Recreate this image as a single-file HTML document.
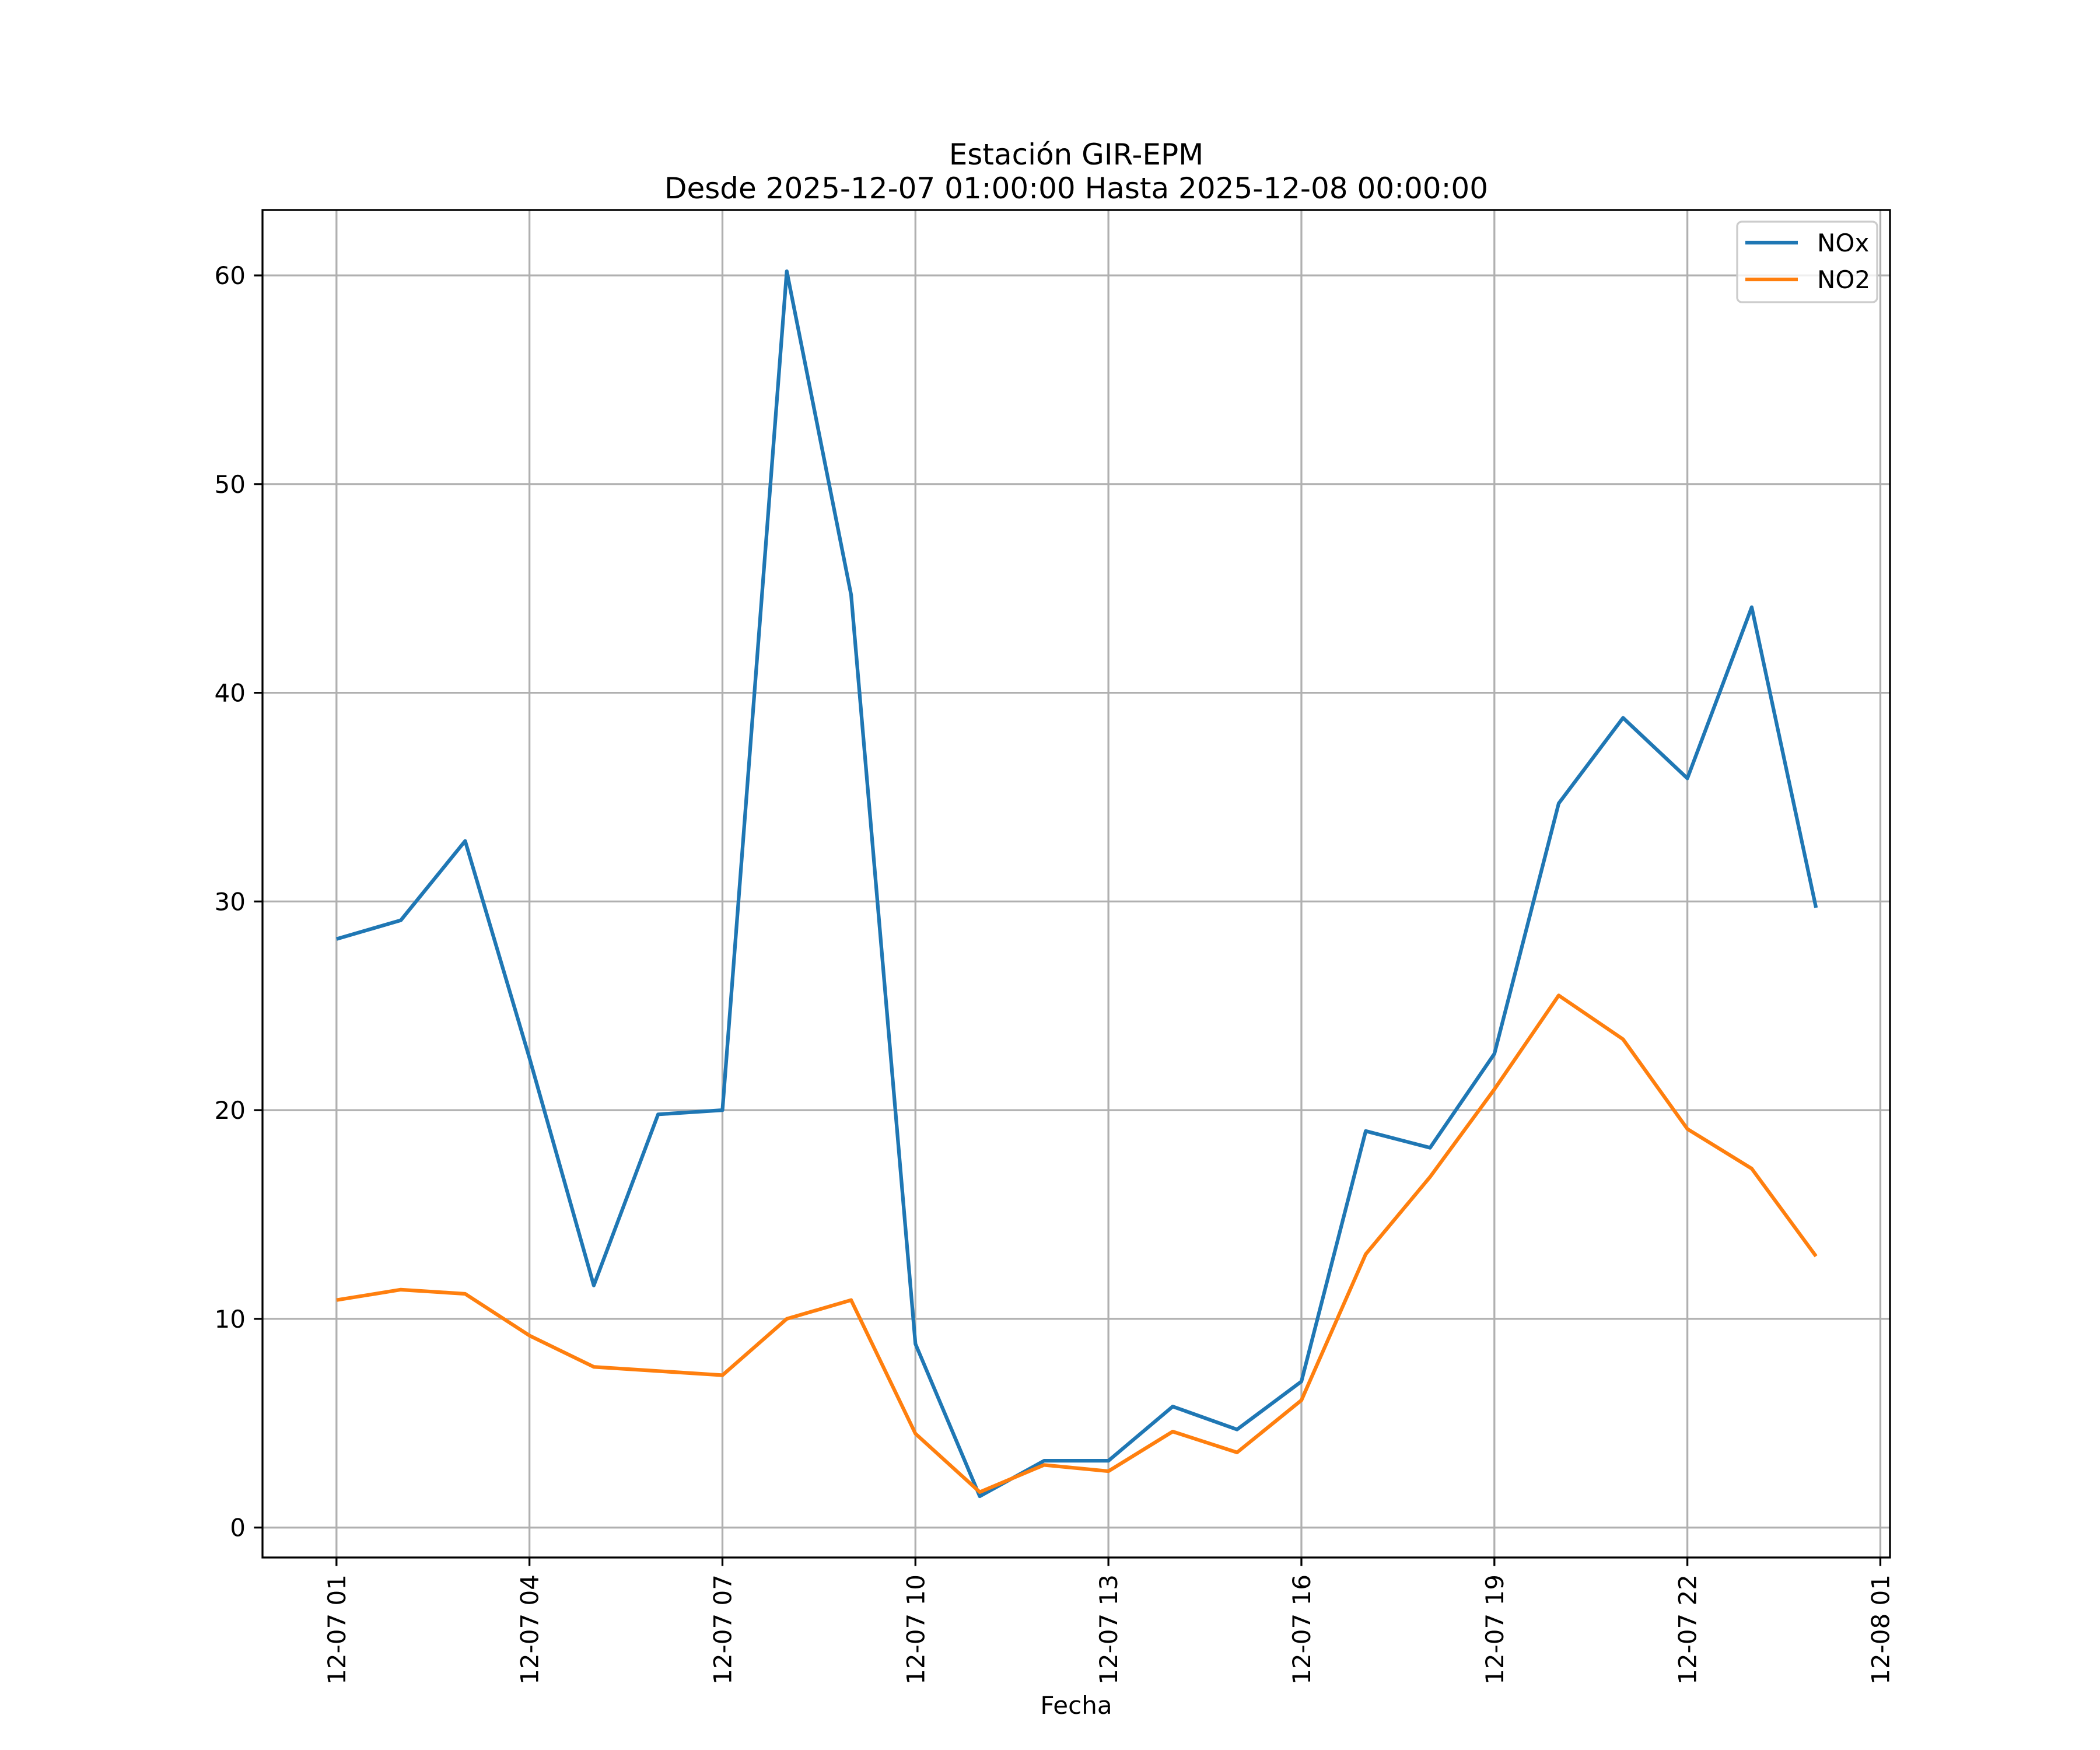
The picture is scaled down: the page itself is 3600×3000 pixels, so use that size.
<!DOCTYPE html>
<html><head><meta charset="utf-8"><style>
html,body{margin:0;padding:0;background:#fff}
svg{display:block;font-family:"DejaVu Sans","Liberation Sans",sans-serif}
</style></head><body>
<svg id="chart" width="3600" height="3000" viewBox="0 0 3600 3000">
<rect width="3600" height="3000" fill="#fff"/>
<text x="1845" y="282" font-size="50" text-anchor="middle">Estación GIR-EPM</text>
<text x="1845" y="340" font-size="50" text-anchor="middle">Desde 2025-12-07 01:00:00 Hasta 2025-12-08 00:00:00</text>
<g id="grid"></g>
<g id="series"></g>
<rect x="450" y="360" width="2790" height="2310" fill="none" stroke="#000" stroke-width="3.3"/>
<g id="ticks"></g>
<text x="1845" y="2938" font-size="42" text-anchor="middle">Fecha</text>
<g>
<rect x="2978" y="380" width="240" height="138" rx="8" fill="#fff" fill-opacity="0.8" stroke="#ccc" stroke-width="3.3"/>
<line x1="2992" y1="416" x2="3082" y2="416" stroke="#1f77b4" stroke-width="6.25"/>
<text x="3115" y="431" font-size="42">NOx</text>
<line x1="2992" y1="479" x2="3082" y2="479" stroke="#ff7f0e" stroke-width="6.25"/>
<text x="3115" y="494" font-size="42">NO2</text>
</g>
</svg>
<script>
const hours = [1,2,3,4,5,6,7,8,9,10,11,12,13,14,15,16,17,18,19,20,21,22,23,24];
const noxValues = [28.2,29.1,32.9,22.5,11.6,19.8,20.0,60.2,44.7,8.8,1.5,3.2,3.2,5.8,4.7,7.0,19.0,18.2,22.7,34.7,38.8,35.9,44.1,29.7];
const no2Values = [10.9,11.4,11.2,9.2,7.7,7.5,7.3,10.0,10.9,4.5,1.7,3.0,2.7,4.6,3.6,6.1,13.1,16.8,21.0,25.5,23.4,19.1,17.2,13.0];
const xTickHours = [1,4,7,10,13,16,19,22,25];
const xTickLabels = ["12-07 01","12-07 04","12-07 07","12-07 10","12-07 13","12-07 16","12-07 19","12-07 22","12-08 01"];
const yTicks = [0,10,20,30,40,50,60];

const NS="http://www.w3.org/2000/svg";
const L=450,R=3240,T=360,B=2670;
const allV=noxValues.concat(no2Values);
const vmin=Math.min(...allV),vmax=Math.max(...allV);
const ymin=vmin-0.05*(vmax-vmin),ymax=vmax+0.05*(vmax-vmin);
const hmin=Math.min(...hours),hmax=Math.max(...hours);
const xmin=hmin-0.05*(hmax-hmin),xmax=hmax+0.05*(hmax-hmin);
const xs=h=>L+(h-xmin)/(xmax-xmin)*(R-L);
const ys=v=>B-(v-ymin)/(ymax-ymin)*(B-T);
function mk(t,a,p){const e=document.createElementNS(NS,t);for(const k in a)e.setAttribute(k,a[k]);p.appendChild(e);return e;}
const grid=document.getElementById('grid'),ticks=document.getElementById('ticks'),series=document.getElementById('series');
xTickHours.forEach((h,i)=>{
  const x=xs(h);
  const g=mk('line',{x1:x,x2:x,y1:T,y2:B,stroke:'#b0b0b0','stroke-width':3.3},grid);
  
  
  const t=mk('line',{x1:x,x2:x,y1:B,y2:B+14.6,stroke:'#000','stroke-width':3.3},ticks);
  
  
  const tx=mk('text',{x:0,y:0,'font-size':42,'text-anchor':'end',transform:`translate(${x+15},${B+29}) rotate(-90)`},ticks);
  tx.textContent=xTickLabels[i];
  
  
});
yTicks.forEach(v=>{
  const y=ys(v);
  const g=mk('line',{x1:L,x2:R,y1:y,y2:y,stroke:'#b0b0b0','stroke-width':3.3},grid);
  
  
  const t=mk('line',{x1:L-14.6,x2:L,y1:y,y2:y,stroke:'#000','stroke-width':3.3},ticks);
  
  
  const tx=mk('text',{x:L-29,y:y+15,'font-size':42,'text-anchor':'end'},ticks);
  tx.textContent=String(v);
  
  
});
function line(vals,color,name){
  const p=mk('polyline',{points:vals.map((v,i)=>xs(hours[i])+','+ys(v)).join(' '),fill:'none',stroke:color,'stroke-width':6.25,'stroke-linejoin':'round'},series);
  
  
}
line(noxValues,'#1f77b4','nox-line');
line(no2Values,'#ff7f0e','no2-line');
</script>
</body></html>
